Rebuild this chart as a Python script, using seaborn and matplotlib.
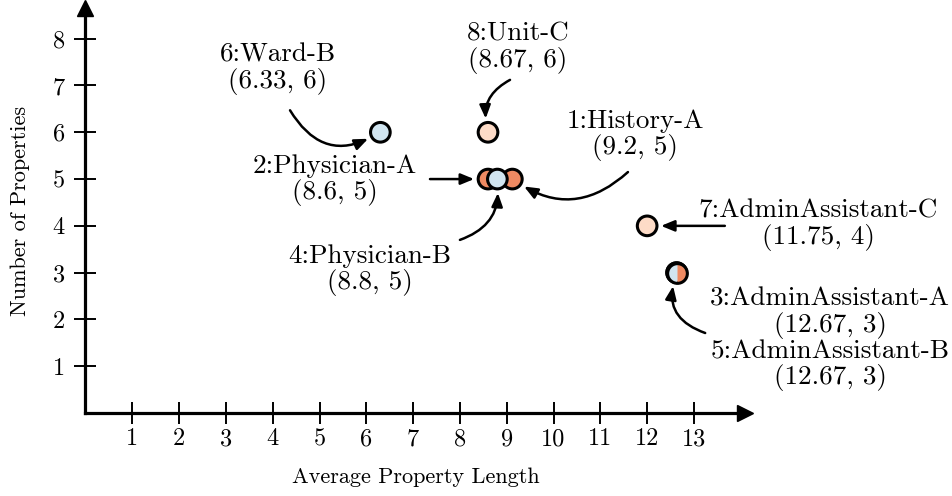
import matplotlib
matplotlib.use("Agg")
import matplotlib.pyplot as plt
import seaborn as sns
import pandas as pd

# data
ids = [1, 2, 3, 4, 5, 6, 7, 8]
names = ["History-A", "Physician-A", "AdminAssistant-A", "Physician-B",
         "AdminAssistant-B", "Ward-B", "AdminAssistant-C", "Unit-C"]
avg_length = [9.2, 8.6, 12.67, 8.8, 12.67, 6.33, 11.75, 8.67]
drawn_x = [9.12, 8.6, 12.63, 8.8, 12.63, 6.3, 12.0, 8.6]   # where the marks sit in the picture
num_props = [5, 5, 3, 5, 3, 6, 4, 6]
group = ["A", "A", "A", "B", "B", "B", "C", "C"]

x_ticks = list(range(1, 14))
y_ticks = list(range(1, 9))

palette = {"A": "#ef8a62", "B": "#d1e5f0", "C": "#fddbc7"}

df = pd.DataFrame({"id": ids, "name": names, "avg": avg_length, "x": drawn_x,
                   "n": num_props, "group": group})
# draw orange first so the blue one sits on top in the cluster
df["order"] = df["group"].map({"A": 0, "C": 1, "B": 2})
df = df.sort_values("order", kind="stable")

sns.set_style("white")
plt.rcParams["font.family"] = ["cmr10", "DejaVu Serif"]
plt.rcParams["axes.formatter.use_mathtext"] = True
plt.rcParams["text.color"] = "black"
plt.rcParams["axes.labelcolor"] = "black"

fig = plt.figure(figsize=(9.53, 4.96), dpi=100)
ax = fig.add_axes([0.0897, 0.1673, 0.6925, 0.816])

sns.scatterplot(data=df, x="x", y="n", hue="group", palette=palette, s=200,
                edgecolor="black", linewidth=2.2, legend=False, ax=ax, zorder=3,
                clip_on=False)

# the two coincident points (3 and 5) get a split marker
dup = df[(df["id"] == 3)]
ax.plot(dup["x"], dup["n"], marker="o", ms=14.2, mew=0, mec="none",
        fillstyle="left", mfc=palette["B"], mfcalt=palette["A"], ls="none", zorder=4)
ax.plot(dup["x"], dup["n"], marker="o", ms=14.2, mew=2.2, mec="black",
        mfc="none", ls="none", zorder=5)

ax.set_xlim(0, 14.1)
ax.set_ylim(0, 8.65)
ax.set_xticks(x_ticks)
ax.set_yticks(y_ticks)
ax.set_xticklabels([str(t) for t in x_ticks])
ax.set_yticklabels([str(t) for t in y_ticks])
for side in ["top", "right"]:
    ax.spines[side].set_visible(False)
for side in ["left", "bottom"]:
    ax.spines[side].set_linewidth(2.3)
    ax.spines[side].set_color("black")
ax.plot(1, 0, ">k", ms=11, transform=ax.get_yaxis_transform(), clip_on=False)
ax.plot(0, 1, "^k", ms=11, transform=ax.get_xaxis_transform(), clip_on=False)
ax.tick_params(bottom=True, left=True, direction="inout", length=16, width=1.4,
               labelsize=17.5, colors="black")
ax.tick_params(axis="x", pad=3)
ax.tick_params(axis="y", pad=7)
ax.set_xlabel("Average Property Length", fontsize=16, labelpad=12)
ax.set_ylabel("Number of Properties", fontsize=16, labelpad=16)
ax.grid(False)


def fmt(v):
    return f"{v:g}"


# annotations: label centre, arrow tail, curvature
notes = {
    6: ((4.11, 7.35), (4.37, 6.47), 0.5),
    8: ((9.24, 7.80), (9.07, 7.12), 0.4),
    1: ((11.74, 5.94), (11.59, 5.15), -0.4),
    2: ((5.33, 4.98), (7.36, 5.0), 0.0),
    4: ((6.08, 3.06), (8.0, 3.70), 0.4),
    7: ((15.65, 4.02), (13.66, 4.0), 0.0),
    3: ((15.91, 1.58), (13.24, 1.71), -0.5),
}
lookup = df.set_index("id")
for i, (txt_pos, tail, rad) in notes.items():
    row = lookup.loc[i]
    label = f"{i}:{row['name']}\n({fmt(row['avg'])}, {row['n']})"
    if i == 3:
        r5 = lookup.loc[5]
        label += f"\n5:{r5['name']}\n({fmt(r5['avg'])}, {r5['n']})"
    ax.text(txt_pos[0], txt_pos[1], label, ha="center", va="center",
            fontsize=19.5, linespacing=1.05, clip_on=False)
    ax.annotate("", xy=(row["x"], row["n"]), xytext=tail, annotation_clip=False,
                arrowprops=dict(arrowstyle="-|>,head_length=0.8,head_width=0.33",
                                color="black", lw=1.8, shrinkA=0, shrinkB=10,
                                connectionstyle=f"arc3,rad={rad}"))

fig.savefig("out.png", dpi=100)
